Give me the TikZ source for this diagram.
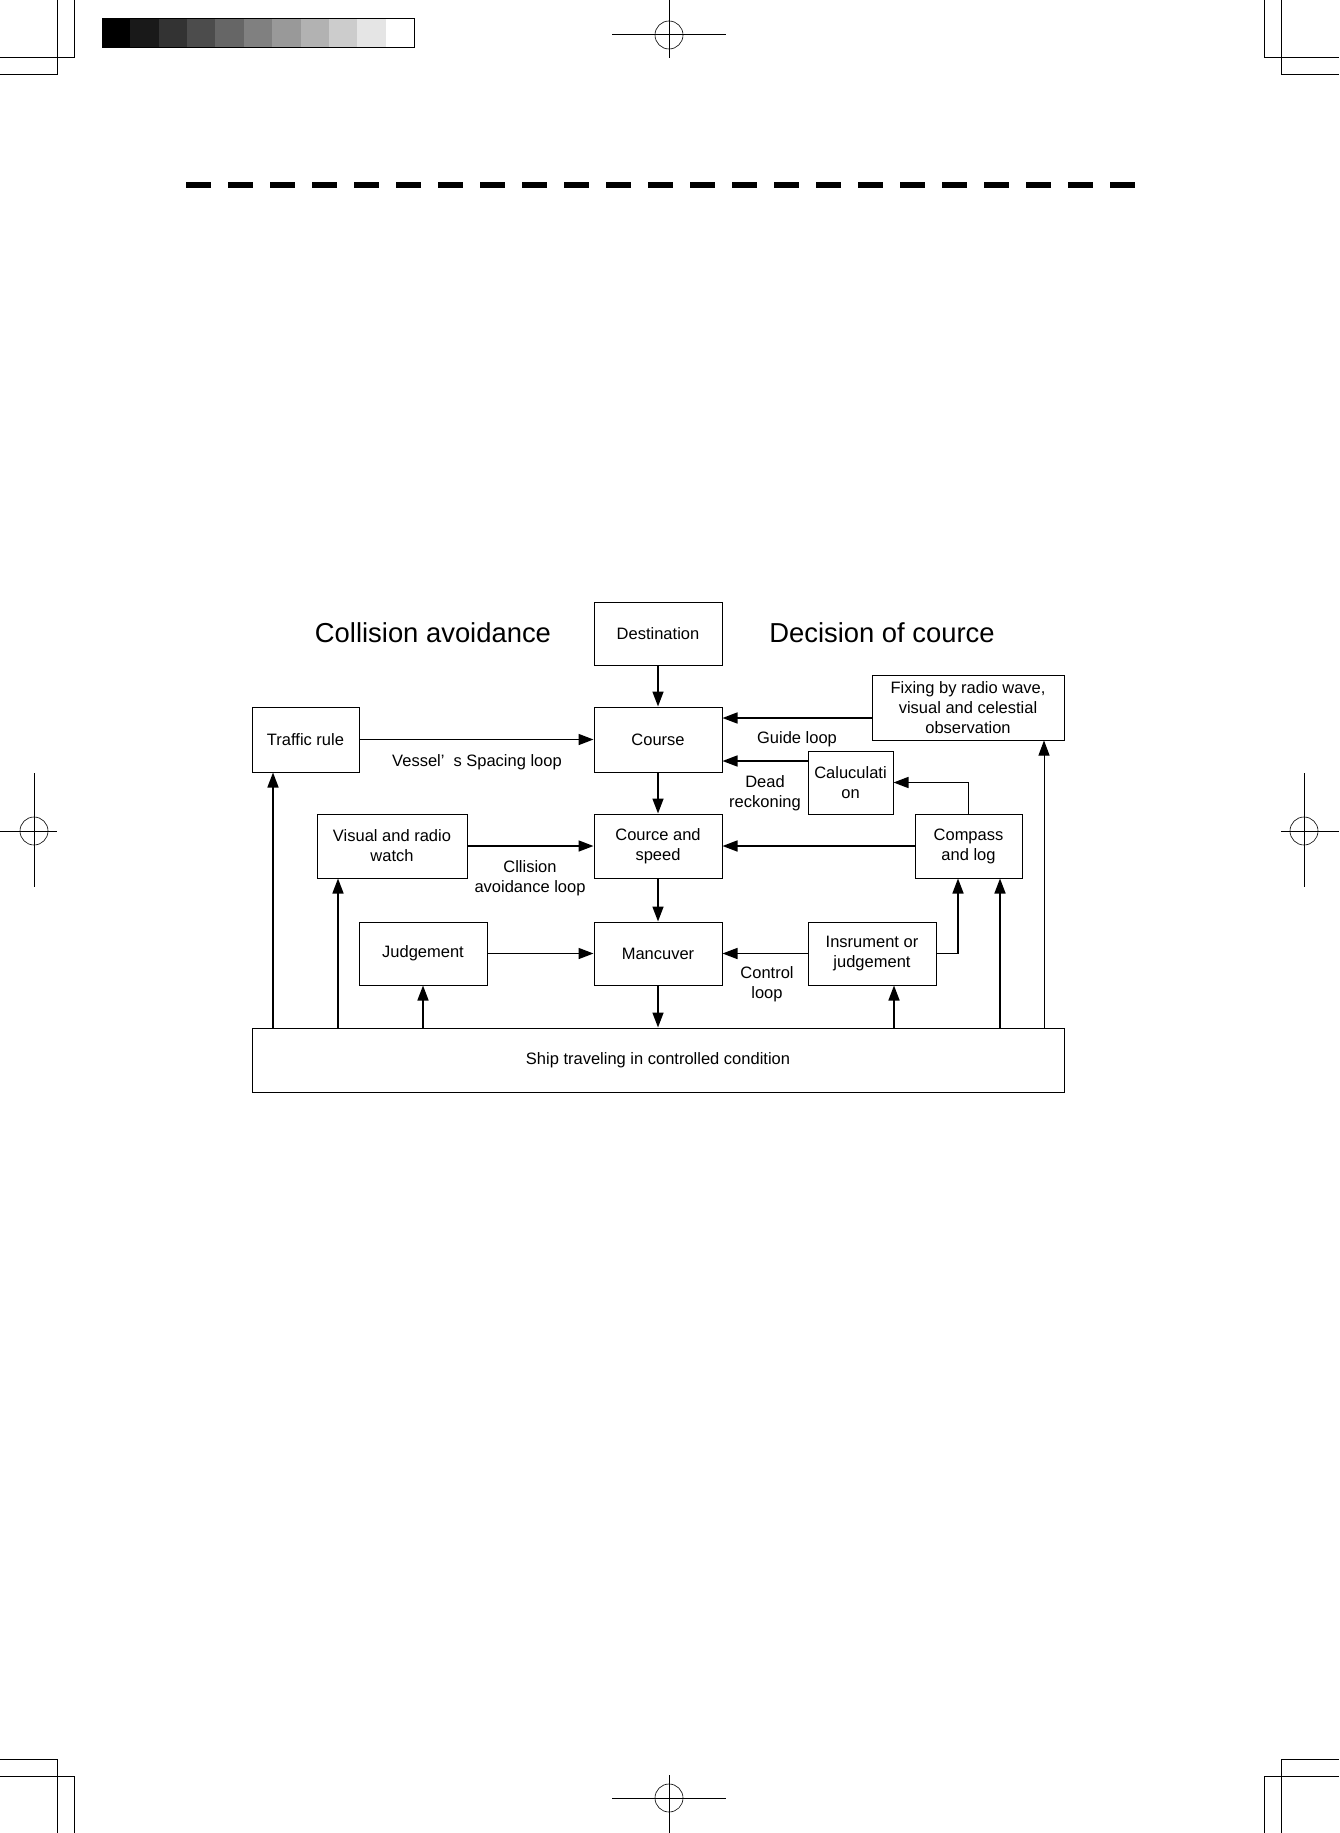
\documentclass[tikz,border=0pt]{standalone}
\usepackage{fontspec}
\setmainfont{Liberation Sans}
\usetikzlibrary{arrows.meta,calc}
\newcommand\boxfont{\fontsize{16.5}{20}\selectfont}
\newcommand\titlefont{\fontsize{27.4}{32}\selectfont}
\begin{document}
\begin{tikzpicture}[x=1pt,y=-1pt,
  box/.style={draw,line width=1pt,inner sep=0pt,align=center,font=\boxfont},
  lbl/.style={inner sep=0pt,align=center,font=\boxfont},
  ttl/.style={inner sep=0pt,font=\titlefont},
  arr/.style={line width=1.6pt,-{Triangle[length=15pt,width=11pt]}},
  thinarr/.style={line width=1pt,-{Triangle[length=15pt,width=11pt]}},
  cropline/.style={line width=1pt}]
\fill[white] (0,0) rectangle (1339,1833);
\useasboundingbox (0,0) rectangle (1339,1833);
% ---- printer marks ----
\draw[cropline] (57,0) -- (57,75) -- (0,75);
\draw[cropline] (74,0) -- (74,58) -- (0,58);
\draw[cropline] (1264,0) -- (1264,58) -- (1339,58);
\draw[cropline] (1281,0) -- (1281,75) -- (1339,75);
\draw[cropline] (57,1833) -- (57,1759) -- (0,1759);
\draw[cropline] (74,1833) -- (74,1776) -- (0,1776);
\draw[cropline] (1281,1833) -- (1281,1759) -- (1339,1759);
\draw[cropline] (1264,1833) -- (1264,1776) -- (1339,1776);
% crosshairs
\draw[cropline] (669,0) -- (669,58) (612,35) -- (726,35);
\draw[line width=0.6pt] (669,35) circle (14);
\draw[cropline] (669,1775) -- (669,1833) (612,1798) -- (726,1798);
\draw[line width=0.6pt] (669,1798) circle (14);
\draw[cropline] (34,773) -- (34,887) (0,831) -- (57,831);
\draw[line width=0.6pt] (34,831) circle (14);
\draw[cropline] (1304,773) -- (1304,887) (1281,831) -- (1339,831);
\draw[line width=0.6pt] (1304,831) circle (14);
% gray scale bar
\foreach \i in {0,...,10} {
  \pgfmathsetmacro\lev{100-10*\i}
  \fill[black!\lev!white] ({102+\i*28.36},18) rectangle ({102+(\i+1)*28.36},47);
}
\draw[line width=0.8pt] (102,18) rectangle (414,47);
% dashed rule
\foreach \i in {0,...,22} {
  \fill[black] ({186+\i*42},182) rectangle ({211+\i*42},188);
}
% ---- titles ----
\node[ttl] (t1) at (433,633) {Collision avoidance};
\node[ttl] (t2) at (882,633) {Decision of cource};
% ---- boxes ----
\node[box,minimum width=128,minimum height=63] (dest) at (658,633.5) {Destination};
\node[box,minimum width=128,minimum height=65] (course) at (658,739.5) {Course};
\node[box,minimum width=128,minimum height=64] (cs) at (658,846) {Cource and\\speed};
\node[box,minimum width=128,minimum height=63] (manc) at (658,953.5) {Mancuver};
\node[box,minimum width=107,minimum height=65] (traffic) at (305.5,739.5) {Traffic rule};
\node[box,minimum width=150,minimum height=64] (visual) at (392,846) {Visual and radio\\watch};
\node[box,minimum width=128,minimum height=63] (judg) at (423,953.5) {Judgement};
\node[box,minimum width=192,minimum height=65] (fix) at (968,707.5) {Fixing by radio wave,\\visual and celestial\\observation};
\node[box,minimum width=85,minimum height=63] (calc) at (850.5,782.5) {Caluculati\\on};
\node[box,minimum width=107,minimum height=64] (compass) at (968.5,846) {Compass\\and log};
\node[box,minimum width=128,minimum height=63] (instr) at (872,953.5) {Insrument or\\judgement};
\node[box,minimum width=812,minimum height=64] (ship) at (658,1060) {Ship traveling in controlled condition};
% ---- labels ----
\node[lbl] (l1) at (477,762) {Vessel’\hspace{9pt}s Spacing loop};
\node[lbl] (l2) at (797,739) {Guide loop};
\node[lbl] (l3) at (765,793) {Dead\\reckoning};
\node[lbl] (l4) at (530,878) {Cllision\\avoidance loop};
\node[lbl] (l5) at (767,984) {Control\\loop};
% ---- helper coordinates ----
\coordinate (yg) at (0,718);
\coordinate (yd) at (0,761);
\coordinate (xi) at (958,0);
\coordinate (xa) at (273,0);
\coordinate (xb) at (338,0);
\coordinate (xc) at (894,0);
\coordinate (xe) at (1000,0);
\coordinate (xf) at (1044,0);
% ---- connectors ----
\draw[arr] (dest) -- (course);
\draw[arr] (course) -- (cs);
\draw[arr] (cs) -- (manc);
\draw[arr] (manc) -- (ship);
\draw[arr] (traffic) -- (course);
\draw[arr] (visual) -- (cs);
\draw[arr] (judg) -- (manc);
\draw[arr] (fix.west |- yg) -- (course.east |- yg);
\draw[arr] (calc.west |- yd) -- (course.east |- yd);
\draw[arr] (compass.north) |- (calc.east);
\draw[arr] (compass) -- (cs);
\draw[arr] (instr) -- (manc);
\draw[arr] (instr.east) -| (compass.south -| xi);
\draw[arr] (ship.north -| xa) -- (traffic.south -| xa);
\draw[arr] (ship.north -| xb) -- (visual.south -| xb);
\draw[arr] (ship.north -| judg) -- (judg.south);
\draw[arr] (ship.north -| xc) -- (instr.south -| xc);
\draw[arr] (ship.north -| xe) -- (compass.south -| xe);
\draw[thinarr] (ship.north -| xf) -- (fix.south -| xf);
\end{tikzpicture}
\end{document}
